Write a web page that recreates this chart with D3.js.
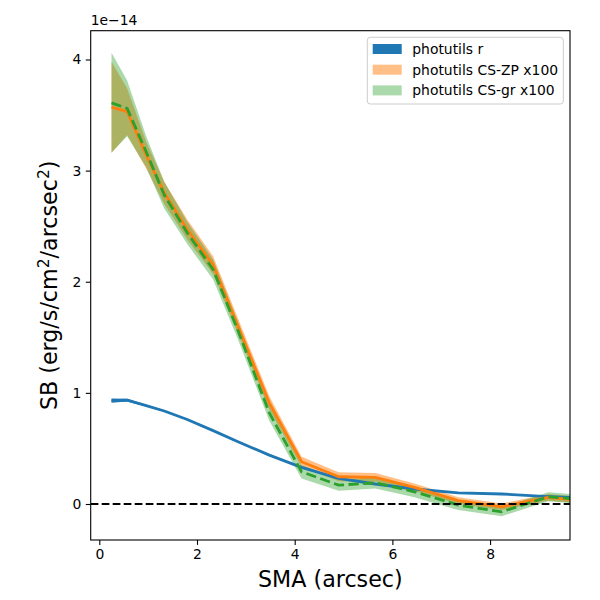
<!DOCTYPE html>
<html>
<head>
<meta charset="utf-8">
<script src="https://cdn.jsdelivr.net/npm/d3@7"></script>
<style>
  html, body { margin: 0; padding: 0; background: #fff; }
  svg { display: block; font-family: "DejaVu Sans", sans-serif; }
</style>
</head>
<body>
<svg id="chart" width="600" height="600"></svg>
<script>
// ---- data (SB in units of 1e-14 erg/s/cm^2/arcsec^2) ----
const sma    = [0.25, 0.57, 0.96, 1.33, 1.80, 2.33, 2.84, 3.48, 4.14, 4.90, 5.65, 6.45, 7.35, 8.24, 9.19, 10.2];
const rVal   = [0.93, 0.935, 0.886, 0.837, 0.76, 0.66, 0.56, 0.44, 0.33, 0.23, 0.18, 0.135, 0.10, 0.09, 0.066, 0.05];
const rErr   = [0.02, 0.012, 0.008, 0.007, 0.006, 0.005, 0.005, 0.004, 0.004, 0.004, 0.004, 0.004, 0.004, 0.004, 0.004, 0.004];
const zpVal  = [3.57, 3.53, 3.14, 2.80, 2.47, 2.15, 1.60, 0.91, 0.38, 0.245, 0.24, 0.15, 0.03, -0.025, 0.06, 0.02];
const zpErr  = [0.41, 0.21, 0.12, 0.10, 0.09, 0.08, 0.07, 0.06, 0.045, 0.04, 0.04, 0.035, 0.03, 0.03, 0.03, 0.03];
const grVal  = [3.61, 3.56, 3.17, 2.78, 2.44, 2.11, 1.56, 0.82, 0.29, 0.17, 0.19, 0.11, -0.01, -0.07, 0.065, 0.03];
const grErr  = [0.45, 0.25, 0.14, 0.12, 0.10, 0.09, 0.08, 0.07, 0.06, 0.05, 0.05, 0.05, 0.045, 0.04, 0.04, 0.04];
const xTicks = [0, 2, 4, 6, 8];
const yTicks = [0, 1, 2, 3, 4];
const legendLabels = ["photutils r", "photutils CS-ZP x100", "photutils CS-gr x100"];
const xLimits = [-0.176, 9.636];
const yLimits = [-0.324, 4.259];

// ---- layout ----
const svg = d3.select("#chart");
const L = 90.7, R = 570, T = 30.7, B = 540;
const x = d3.scaleLinear().domain(xLimits).range([L, R]);
const y = d3.scaleLinear().domain(yLimits).range([B, T]);

const C = { blue: "#1f77b4", orange: "#ff7f0e", green: "#2ca02c" };

svg.append("defs").append("clipPath").attr("id", "clip")
  .append("rect").attr("x", L).attr("y", T).attr("width", R - L).attr("height", B - T);

const plot = svg.append("g").attr("clip-path", "url(#clip)");

function series(vals, errs) {
  return sma.map((s, i) => ({ x: s, v: vals[i], lo: vals[i] - errs[i], hi: vals[i] + errs[i] }));
}
const rS = series(rVal, rErr), zpS = series(zpVal, zpErr), grS = series(grVal, grErr);

const area = d3.area().x(d => x(d.x)).y0(d => y(d.lo)).y1(d => y(d.hi));
const line = d3.line().x(d => x(d.x)).y(d => y(d.v));

// bands (drawn below lines, like matplotlib collections)
plot.append("path").attr("d", area(rS)).attr("fill", C.blue).attr("fill-opacity", 1);
plot.append("path").attr("d", area(zpS)).attr("fill", C.orange).attr("fill-opacity", 0.5);
plot.append("path").attr("d", area(grS)).attr("fill", C.green).attr("fill-opacity", 0.4);

// lines
plot.append("path").attr("d", line(rS)).attr("fill", "none").attr("stroke", C.blue)
  .attr("stroke-width", 2.8).attr("stroke-linejoin", "round");
plot.append("path").attr("d", line(zpS)).attr("fill", "none").attr("stroke", C.orange)
  .attr("stroke-width", 2.8).attr("stroke-linejoin", "round");
plot.append("path").attr("d", line(grS)).attr("fill", "none").attr("stroke", C.green)
  .attr("stroke-width", 2.8).attr("stroke-dasharray", "10.3,4.4").attr("stroke-linejoin", "round");

// zero line
plot.append("line").attr("x1", L).attr("x2", R).attr("y1", y(0)).attr("y2", y(0))
  .attr("stroke", "#000").attr("stroke-width", 2.1).attr("stroke-dasharray", "7.7,3.3");

// axes
const xAxis = d3.axisBottom(x).tickValues(xTicks).tickSize(4.9).tickPadding(4.5).tickFormat(d3.format("d"));
const yAxis = d3.axisLeft(y).tickValues(yTicks).tickSize(4.9).tickPadding(4.5).tickFormat(d3.format("d"));
const gx = svg.append("g").attr("transform", `translate(0,${B})`).call(xAxis);
const gy = svg.append("g").attr("transform", `translate(${L},0)`).call(yAxis);
[gx, gy].forEach(g => {
  g.select(".domain").remove();
  g.selectAll(".tick line").attr("stroke", "#000").attr("stroke-width", 1.1);
  g.selectAll(".tick text").attr("fill", "#000").attr("font-size", 13.9)
    .attr("font-family", "DejaVu Sans, sans-serif");
});

// frame
svg.append("rect").attr("x", L).attr("y", T).attr("width", R - L).attr("height", B - T)
  .attr("fill", "none").attr("stroke", "#000").attr("stroke-width", 1.1);

// offset text
svg.append("text").attr("x", L).attr("y", T - 6).attr("font-size", 13.9).attr("fill", "#000")
  .text("1e\u221214");

// axis labels
svg.append("text").attr("x", (L + R) / 2).attr("y", 587).attr("text-anchor", "middle")
  .attr("font-size", 22.2).attr("fill", "#000").text("SMA (arcsec)");

const yl = svg.append("text").attr("transform", `translate(57,${(T + B) / 2}) rotate(-90)`)
  .attr("text-anchor", "middle").attr("font-size", 22.2).attr("fill", "#000");
yl.append("tspan").text("SB (erg/s/cm");
yl.append("tspan").attr("dy", -8).attr("font-size", 15.5).text("2");
yl.append("tspan").attr("dy", 8).text("/arcsec");
yl.append("tspan").attr("dy", -8).attr("font-size", 15.5).text("2");
yl.append("tspan").attr("dy", 8).text(")");

// legend
const lg = svg.append("g");
lg.append("rect").attr("x", 367.3).attr("y", 37.3).attr("width", 196).attr("height", 66.7)
  .attr("rx", 3).attr("fill", "#fff").attr("fill-opacity", 0.8)
  .attr("stroke", "#cccccc").attr("stroke-width", 1);
const lgColors = [[C.blue, 1], [C.orange, 0.5], [C.green, 0.4]];
legendLabels.forEach((lab, i) => {
  const cy = 49 + i * 20.7;
  lg.append("rect").attr("x", 372.7).attr("y", cy - 5).attr("width", 29).attr("height", 10)
    .attr("fill", lgColors[i][0]).attr("fill-opacity", lgColors[i][1]);
  lg.append("text").attr("x", 412.3).attr("y", cy + 5).attr("font-size", 13.9).attr("fill", "#000").text(lab);
});
</script>
</body>
</html>
